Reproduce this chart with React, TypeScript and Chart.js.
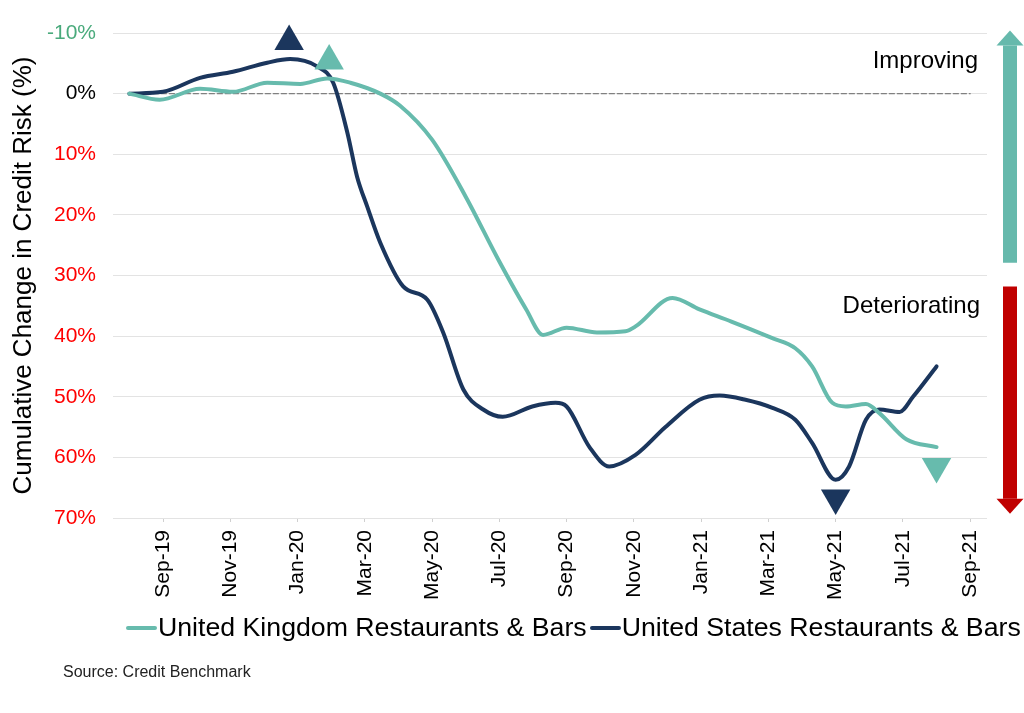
import React, { useEffect, useRef } from "react";
import { Chart, registerables } from "chart.js";

Chart.register(...registerables);

// Months are counted from Sep-19 (= 0)
const tickMonths = [0, 2, 4, 6, 8, 10, 12, 14, 16, 18, 20, 22, 24];
const tickLabels = ["Sep-19", "Nov-19", "Jan-20", "Mar-20", "May-20", "Jul-20", "Sep-20", "Nov-20", "Jan-21", "Mar-21", "May-21", "Jul-21", "Sep-21"];
const yTickValues = [-10, 0, 10, 20, 30, 40, 50, 60, 70];

const ukMonths = [-1.0, -0.1, 1.1, 2.08, 3.1, 4.08, 4.88, 5.57, 6.46, 7.05, 8.0, 9.0, 10.0, 10.8, 11.3, 12.0, 12.9, 13.75, 14.05, 15.15, 15.95, 16.9, 18.1, 18.8, 19.3, 19.9, 20.3, 20.9, 21.3, 22.1, 23.0];
const ukValues = [0, 1.0, -0.8, -0.3, -1.8, -1.6, -2.5, -1.8, 0, 2, 7.6, 17, 27.7, 35.6, 39.8, 38.6, 39.4, 39.2, 38.4, 33.7, 35.6, 37.6, 40.3, 42, 45, 51, 51.6, 51.2, 52.7, 57, 58.3];

const usMonths = [-1.0, 0, 1.1, 2.08, 3.1, 3.78, 4.58, 5.06, 5.48, 5.77, 6.07, 6.46, 7.14, 7.86, 8.33, 8.93, 9.52, 10.1, 10.98, 11.67, 12.0, 12.68, 13.27, 14.05, 14.94, 15.95, 16.55, 17.32, 18.1, 18.8, 19.3, 20.0, 20.4, 20.9, 21.3, 21.9, 22.3, 23.0];
const usValues = [0, -0.3, -2.6, -3.6, -5.1, -5.7, -4.5, -1.8, 6.4, 13.7, 18.6, 24.6, 31.8, 34, 39.4, 48.8, 52.1, 53.3, 51.6, 51, 51.6, 58.3, 61.5, 59.6, 55, 50.5, 49.8, 50.5, 51.8, 53.8, 57.6, 63.7, 61.5, 53.8, 52.1, 52.5, 50, 45];

const ukMarkerMonths = [4.94, 23.0];
const ukMarkerValues = [-5.4, 61.5];
const usMarkerMonths = [3.75, 20.0];
const usMarkerValues = [-8.6, 66.7];
const markerRotations = [0, 180];

const zeroLineMonths = [-1, 24];
const zeroLineValues = [0, 0];

const UK_NAME = "United Kingdom Restaurants & Bars";
const US_NAME = "United States Restaurants & Bars";

const UK_COLOR = "#67bbad";
const US_COLOR = "#1b365d";
const FONT = '"Liberation Sans", Arial, sans-serif';

const pts = (xs: number[], ys: number[]) => xs.map((x, i) => ({ x, y: ys[i] }));

function drawArrow(ctx: CanvasRenderingContext2D, x: number, yFrom: number, yTo: number, color: string) {
  const sign = yTo < yFrom ? -1 : 1;
  const head = 15;
  const shaftHalf = 7;
  const headHalf = 13.5;
  const base = yTo - sign * head;
  ctx.save();
  ctx.fillStyle = color;
  ctx.beginPath();
  ctx.rect(x - shaftHalf, Math.min(yFrom, base), shaftHalf * 2, Math.abs(base - yFrom));
  ctx.fill();
  ctx.beginPath();
  ctx.moveTo(x - headHalf, base);
  ctx.lineTo(x + headHalf, base);
  ctx.lineTo(x, yTo);
  ctx.closePath();
  ctx.fill();
  ctx.restore();
}

const annotationPlugin = {
  id: "annotArrows",
  afterDraw(chart: any) {
    const { ctx, chartArea, scales } = chart;
    const y = scales.y;
    const cx = chartArea.right + 23;
    drawArrow(ctx, cx, y.getPixelForValue(27.9), y.getPixelForValue(-10.4), "#66b9ac");
    drawArrow(ctx, cx, y.getPixelForValue(31.8), y.getPixelForValue(69.3), "#c00000");
    ctx.save();
    ctx.font = `24px ${FONT}`;
    ctx.fillStyle = "#000";
    ctx.textAlign = "right";
    ctx.textBaseline = "middle";
    ctx.fillText("Improving", chartArea.right - 9, y.getPixelForValue(-5.3));
    ctx.fillText("Deteriorating", chartArea.right - 7, y.getPixelForValue(35.1));
    ctx.restore();
  },
};

export default function App() {
  const canvasRef = useRef<HTMLCanvasElement | null>(null);

  useEffect(() => {
    document.body.style.margin = "0";
    const canvas = canvasRef.current;
    if (!canvas) return;
    Chart.defaults.font.family = FONT;
    const chart = new Chart(canvas, {
      type: "line",
      data: {
        datasets: [
          {
            label: "UK markers",
            type: "scatter",
            data: pts(ukMarkerMonths, ukMarkerValues),
            showLine: false,
            pointStyle: "triangle",
            pointRadius: 17,
            pointRotation: markerRotations,
            backgroundColor: UK_COLOR,
            borderColor: UK_COLOR,
            borderWidth: 0,
            clip: false,
            order: 0,
          } as any,
          {
            label: "US markers",
            type: "scatter",
            data: pts(usMarkerMonths, usMarkerValues),
            showLine: false,
            pointStyle: "triangle",
            pointRadius: 17,
            pointRotation: markerRotations,
            backgroundColor: US_COLOR,
            borderColor: US_COLOR,
            borderWidth: 0,
            clip: false,
            order: 0,
          } as any,
          {
            label: UK_NAME,
            data: pts(ukMonths, ukValues),
            borderColor: UK_COLOR,
            backgroundColor: UK_COLOR,
            borderWidth: 4,
            pointRadius: 0,
            cubicInterpolationMode: "monotone",
            order: 1,
          },
          {
            label: US_NAME,
            data: pts(usMonths, usValues),
            borderColor: US_COLOR,
            backgroundColor: US_COLOR,
            borderWidth: 4,
            pointRadius: 0,
            cubicInterpolationMode: "monotone",
            order: 2,
          },
          {
            label: "zero",
            data: pts(zeroLineMonths, zeroLineValues),
            borderColor: "#808080",
            borderWidth: 1.3,
            borderDash: [5, 3],
            pointRadius: 0,
            order: 3,
          },
        ],
      },
      options: {
        responsive: false,
        animation: false,
        layout: { padding: { left: 0, right: 37, top: 33, bottom: 0 } },
        plugins: {
          legend: { display: false },
          tooltip: { enabled: false },
        },
        elements: { line: { borderCapStyle: "round" } },
        scales: {
          x: {
            type: "linear",
            min: -1.487,
            max: 24.5,
            afterBuildTicks: (scale: any) => {
              scale.ticks = tickMonths.map((v) => ({ value: v }));
            },
            afterFit: (scale: any) => {
              scale.height = 195;
            },
            ticks: {
              autoSkip: false,
              minRotation: 90,
              maxRotation: 90,
              padding: 8,
              color: "#000",
              font: { size: 21 },
              callback: (value: any) => {
                const i = tickMonths.indexOf(Number(value));
                return i >= 0 ? tickLabels[i] : "";
              },
            },
            grid: {
              display: true,
              drawOnChartArea: false,
              drawTicks: true,
              tickLength: 4,
              color: "#d0d0d0",
            },
            border: { display: false },
          },
          y: {
            type: "linear",
            reverse: true,
            min: -10,
            max: 70,
            afterBuildTicks: (scale: any) => {
              scale.ticks = yTickValues.map((v) => ({ value: v }));
            },
            afterFit: (scale: any) => {
              scale.width = 113;
            },
            ticks: {
              padding: 17,
              font: { size: 21 },
              color: (c: any) => (c.tick.value < 0 ? "#4aaa7c" : c.tick.value === 0 ? "#000" : "#ff0000"),
              callback: (value: any) => `${value}%`,
            },
            grid: {
              color: "#e3e3e3",
              lineWidth: 1,
              drawTicks: false,
            },
            border: { display: false },
            title: {
              display: true,
              text: "Cumulative Change in Credit Risk (%)",
              color: "#000",
              font: { size: 26 },
              padding: { top: 8, bottom: 0 },
            },
          },
        },
      },
      plugins: [annotationPlugin],
    });
    return () => chart.destroy();
  }, []);

  const legendItem = (color: string, text: string) => (
    <div style={{ display: "flex", alignItems: "center", marginRight: 3 }}>
      <div style={{ width: 31, height: 4, background: color, borderRadius: 2, marginRight: 1 }} />
      <span>{text}</span>
    </div>
  );

  return (
    <div style={{ position: "relative", width: 1024, height: 713, overflow: "hidden", background: "#fff" }}>
      <canvas ref={canvasRef} width={1024} height={713} style={{ display: "block" }} />
      <div
        style={{
          position: "absolute",
          left: 126,
          top: 612,
          display: "flex",
          fontFamily: FONT,
          fontSize: 26.7,
          lineHeight: "31px",
          color: "#000",
          whiteSpace: "nowrap",
        }}
      >
        {legendItem(UK_COLOR, UK_NAME)}
        {legendItem(US_COLOR, US_NAME)}
      </div>
      <div
        style={{
          position: "absolute",
          left: 63,
          top: 663,
          fontFamily: FONT,
          fontSize: 16,
          lineHeight: "18px",
          color: "#222",
          whiteSpace: "nowrap",
        }}
      >
        Source: Credit Benchmark
      </div>
    </div>
  );
}
